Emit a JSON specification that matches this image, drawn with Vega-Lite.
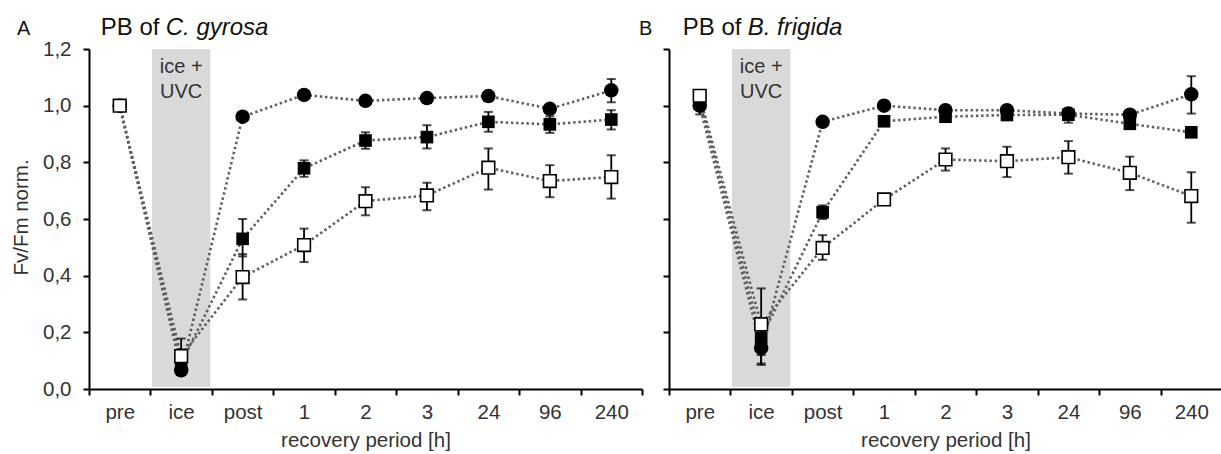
{
"$schema":"https://vega.github.io/schema/vega-lite/v6.json",
"padding":{"left":11,"top":16,"right":0,"bottom":0},
"spacing":27,
"bounds":"flush",
"datasets":{
"pts":[
{"p":"A","s":"c","i":0,"t":"pre","v":1.0},
{"p":"A","s":"c","i":1,"t":"ice","v":0.066,"lo":0.05,"hi":0.09},
{"p":"A","s":"c","i":2,"t":"post","v":0.961},
{"p":"A","s":"c","i":3,"t":"1","v":1.038},
{"p":"A","s":"c","i":4,"t":"2","v":1.017},
{"p":"A","s":"c","i":5,"t":"3","v":1.027},
{"p":"A","s":"c","i":6,"t":"24","v":1.034},
{"p":"A","s":"c","i":7,"t":"96","v":0.989},
{"p":"A","s":"c","i":8,"t":"240","v":1.054,"lo":1.012,"hi":1.094},
{"p":"A","s":"f","i":0,"t":"pre","v":1.0},
{"p":"A","s":"f","i":1,"t":"ice","v":0.09,"lo":0.05,"hi":0.14},
{"p":"A","s":"f","i":2,"t":"post","v":0.53,"lo":0.468,"hi":0.6},
{"p":"A","s":"f","i":3,"t":"1","v":0.779,"lo":0.749,"hi":0.807},
{"p":"A","s":"f","i":4,"t":"2","v":0.877,"lo":0.848,"hi":0.906},
{"p":"A","s":"f","i":5,"t":"3","v":0.889,"lo":0.849,"hi":0.931},
{"p":"A","s":"f","i":6,"t":"24","v":0.943,"lo":0.908,"hi":0.978},
{"p":"A","s":"f","i":7,"t":"96","v":0.934,"lo":0.904,"hi":0.962},
{"p":"A","s":"f","i":8,"t":"240","v":0.951,"lo":0.916,"hi":0.984},
{"p":"A","s":"o","i":0,"t":"pre","v":1.0},
{"p":"A","s":"o","i":1,"t":"ice","v":0.116,"lo":0.07,"hi":0.178},
{"p":"A","s":"o","i":2,"t":"post","v":0.395,"lo":0.316,"hi":0.476},
{"p":"A","s":"o","i":3,"t":"1","v":0.508,"lo":0.448,"hi":0.566},
{"p":"A","s":"o","i":4,"t":"2","v":0.663,"lo":0.613,"hi":0.712},
{"p":"A","s":"o","i":5,"t":"3","v":0.683,"lo":0.631,"hi":0.728},
{"p":"A","s":"o","i":6,"t":"24","v":0.781,"lo":0.704,"hi":0.849},
{"p":"A","s":"o","i":7,"t":"96","v":0.734,"lo":0.677,"hi":0.79},
{"p":"A","s":"o","i":8,"t":"240","v":0.748,"lo":0.672,"hi":0.825},
{"p":"B","s":"c","i":0,"t":"pre","v":1.0,"lo":0.969,"hi":1.03},
{"p":"B","s":"c","i":1,"t":"ice","v":0.145,"lo":0.085,"hi":0.2},
{"p":"B","s":"c","i":2,"t":"post","v":0.943},
{"p":"B","s":"c","i":3,"t":"1","v":1.0},
{"p":"B","s":"c","i":4,"t":"2","v":0.984},
{"p":"B","s":"c","i":5,"t":"3","v":0.984},
{"p":"B","s":"c","i":6,"t":"24","v":0.972},
{"p":"B","s":"c","i":7,"t":"96","v":0.968},
{"p":"B","s":"c","i":8,"t":"240","v":1.04,"lo":0.972,"hi":1.104},
{"p":"B","s":"f","i":0,"t":"pre","v":1.02},
{"p":"B","s":"f","i":1,"t":"ice","v":0.18,"lo":0.09,"hi":0.25},
{"p":"B","s":"f","i":2,"t":"post","v":0.624,"lo":0.6,"hi":0.648},
{"p":"B","s":"f","i":3,"t":"1","v":0.945},
{"p":"B","s":"f","i":4,"t":"2","v":0.961},
{"p":"B","s":"f","i":5,"t":"3","v":0.967},
{"p":"B","s":"f","i":6,"t":"24","v":0.968,"lo":0.94,"hi":0.99},
{"p":"B","s":"f","i":7,"t":"96","v":0.936},
{"p":"B","s":"f","i":8,"t":"240","v":0.906},
{"p":"B","s":"o","i":0,"t":"pre","v":1.035},
{"p":"B","s":"o","i":1,"t":"ice","v":0.228,"lo":0.12,"hi":0.355},
{"p":"B","s":"o","i":2,"t":"post","v":0.498,"lo":0.456,"hi":0.543},
{"p":"B","s":"o","i":3,"t":"1","v":0.669},
{"p":"B","s":"o","i":4,"t":"2","v":0.81,"lo":0.771,"hi":0.849},
{"p":"B","s":"o","i":5,"t":"3","v":0.804,"lo":0.748,"hi":0.855},
{"p":"B","s":"o","i":6,"t":"24","v":0.818,"lo":0.76,"hi":0.875},
{"p":"B","s":"o","i":7,"t":"96","v":0.763,"lo":0.702,"hi":0.82},
{"p":"B","s":"o","i":8,"t":"240","v":0.681,"lo":0.587,"hi":0.765}
]},
"hconcat":[
{"width":553,"height":340,
"encoding":{
"x":{"field":"t","type":"nominal","sort":["pre","ice","post","1","2","3","24","96","240"],
"scale":{"type":"band","domain":["pre","ice","post","1","2","3","24","96","240"],"paddingInner":0,"paddingOuter":0},
"axis":{"title":"recovery period [h]","labelAngle":0,"tickBand":"extent","tickSize":6,"labelPadding":7,"titlePadding":8}}
},
"layer":[
{"data":{"values":[{"t":"ice"}]},"mark":{"type":"rect","color":"#d9d9d9","width":{"band":0.95}},
"encoding":{"y":{"datum":0.008,"type":"quantitative","scale":{"domain":[0,1.2],"nice":false},"axis":{"title":"Fv/Fm norm.","values":[0,0.2,0.4,0.6,0.8,1,1.2],"labelExpr":"replace(format(datum.value,'.1f'),'.',',')","tickSize":6,"labelPadding":12,"titleX":-68,"titleY":168,"titleAngle":-90,"titleAlign":"center","titleBaseline":"middle"}},"y2":{"datum":1.2}}},
{"data":{"values":[{"t":"ice","label":"ice +"}]},"mark":{"type":"text","fontSize":20,"color":"#333"},
"encoding":{"y":{"datum":1.135,"type":"quantitative"},"text":{"field":"label"}}},
{"data":{"values":[{"t":"ice","label":"UVC"}]},"mark":{"type":"text","fontSize":20,"color":"#333"},
"encoding":{"y":{"datum":1.047,"type":"quantitative"},"text":{"field":"label"}}},
{"data":{"values":[{"t":"pre","label":"A"}]},"mark":{"type":"text","fontSize":20,"color":"#111","dx":-96,"baseline":"alphabetic","clip":false},
"encoding":{"y":{"datum":1.248,"type":"quantitative"},"text":{"field":"label"}}},
{"data":{"values":[{"t":"pre","label":"PB of"}]},"mark":{"type":"text","fontSize":24,"color":"#111","dx":-19,"align":"left","baseline":"alphabetic","clip":false},
"encoding":{"y":{"datum":1.248,"type":"quantitative"},"text":{"field":"label"}}},
{"data":{"values":[{"t":"pre","label":"C. gyrosa"}]},"mark":{"type":"text","fontSize":24,"fontStyle":"italic","color":"#111","dx":46,"align":"left","baseline":"alphabetic","clip":false},
"encoding":{"y":{"datum":1.248,"type":"quantitative"},"text":{"field":"label"}}},
{"data":{"name":"pts"},"transform":[{"filter":"datum.p=='A'"}],"mark":{"type":"line","color":"#5e5e5e","strokeWidth":2.6,"strokeDash":[2.4,2.8]},
"encoding":{"y":{"field":"v","type":"quantitative"},"detail":{"field":"s"},"order":{"field":"i"}}},
{"data":{"name":"pts"},"transform":[{"filter":"datum.p=='A' && isValid(datum.lo)"}],"mark":{"type":"rule","color":"#000","strokeWidth":1.8},
"encoding":{"y":{"field":"lo","type":"quantitative"},"y2":{"field":"hi"}}},
{"data":{"name":"pts"},"transform":[{"filter":"datum.p=='A' && isValid(datum.lo)"}],"mark":{"type":"tick","color":"#000","size":9,"thickness":2},
"encoding":{"y":{"field":"lo","type":"quantitative"}}},
{"data":{"name":"pts"},"transform":[{"filter":"datum.p=='A' && isValid(datum.hi)"}],"mark":{"type":"tick","color":"#000","size":9,"thickness":2},
"encoding":{"y":{"field":"hi","type":"quantitative"}}},
{"data":{"name":"pts"},"transform":[{"filter":"datum.p=='A' && datum.s=='c'"}],"mark":{"type":"point","shape":"circle","filled":true,"color":"#000","size":210,"opacity":1},
"encoding":{"y":{"field":"v","type":"quantitative"}}},
{"data":{"name":"pts"},"transform":[{"filter":"datum.p=='A' && datum.s=='f'"}],"mark":{"type":"point","shape":"square","filled":true,"color":"#000","size":160,"opacity":1},
"encoding":{"y":{"field":"v","type":"quantitative"}}},
{"data":{"name":"pts"},"transform":[{"filter":"datum.p=='A' && datum.s=='o'"}],"mark":{"type":"point","shape":"square","filled":true,"fill":"#fff","stroke":"#000","strokeWidth":1.6,"size":160,"opacity":1},
"encoding":{"y":{"field":"v","type":"quantitative"}}}
]},
{"width":553,"height":340,
"encoding":{
"x":{"field":"t","type":"nominal","sort":["pre","ice","post","1","2","3","24","96","240"],
"scale":{"type":"band","domain":["pre","ice","post","1","2","3","24","96","240"],"paddingInner":0,"paddingOuter":0},
"axis":{"title":"recovery period [h]","labelAngle":0,"tickBand":"extent","tickSize":6,"labelPadding":7,"titlePadding":8}}
},
"layer":[
{"data":{"values":[{"t":"ice"}]},"mark":{"type":"rect","color":"#d9d9d9","width":{"band":0.95}},
"encoding":{"y":{"datum":0.008,"type":"quantitative","scale":{"domain":[0,1.2],"nice":false},"axis":{"title":null,"values":[0,0.2,0.4,0.6,0.8,1,1.2],"labels":false,"tickSize":6}},"y2":{"datum":1.2}}},
{"data":{"values":[{"t":"ice","label":"ice +"}]},"mark":{"type":"text","fontSize":20,"color":"#333"},
"encoding":{"y":{"datum":1.135,"type":"quantitative"},"text":{"field":"label"}}},
{"data":{"values":[{"t":"ice","label":"UVC"}]},"mark":{"type":"text","fontSize":20,"color":"#333"},
"encoding":{"y":{"datum":1.047,"type":"quantitative"},"text":{"field":"label"}}},
{"data":{"values":[{"t":"pre","label":"B"}]},"mark":{"type":"text","fontSize":20,"color":"#111","dx":-54,"baseline":"alphabetic","clip":false},
"encoding":{"y":{"datum":1.248,"type":"quantitative"},"text":{"field":"label"}}},
{"data":{"values":[{"t":"pre","label":"PB of"}]},"mark":{"type":"text","fontSize":24,"color":"#111","dx":-17,"align":"left","baseline":"alphabetic","clip":false},
"encoding":{"y":{"datum":1.248,"type":"quantitative"},"text":{"field":"label"}}},
{"data":{"values":[{"t":"pre","label":"B. frigida"}]},"mark":{"type":"text","fontSize":24,"fontStyle":"italic","color":"#111","dx":48,"align":"left","baseline":"alphabetic","clip":false},
"encoding":{"y":{"datum":1.248,"type":"quantitative"},"text":{"field":"label"}}},
{"data":{"name":"pts"},"transform":[{"filter":"datum.p=='B'"}],"mark":{"type":"line","color":"#5e5e5e","strokeWidth":2.6,"strokeDash":[2.4,2.8]},
"encoding":{"y":{"field":"v","type":"quantitative"},"detail":{"field":"s"},"order":{"field":"i"}}},
{"data":{"name":"pts"},"transform":[{"filter":"datum.p=='B' && isValid(datum.lo)"}],"mark":{"type":"rule","color":"#000","strokeWidth":1.8},
"encoding":{"y":{"field":"lo","type":"quantitative"},"y2":{"field":"hi"}}},
{"data":{"name":"pts"},"transform":[{"filter":"datum.p=='B' && isValid(datum.lo)"}],"mark":{"type":"tick","color":"#000","size":9,"thickness":2},
"encoding":{"y":{"field":"lo","type":"quantitative"}}},
{"data":{"name":"pts"},"transform":[{"filter":"datum.p=='B' && isValid(datum.hi)"}],"mark":{"type":"tick","color":"#000","size":9,"thickness":2},
"encoding":{"y":{"field":"hi","type":"quantitative"}}},
{"data":{"name":"pts"},"transform":[{"filter":"datum.p=='B' && datum.s=='c'"}],"mark":{"type":"point","shape":"circle","filled":true,"color":"#000","size":210,"opacity":1},
"encoding":{"y":{"field":"v","type":"quantitative"}}},
{"data":{"name":"pts"},"transform":[{"filter":"datum.p=='B' && datum.s=='f'"}],"mark":{"type":"point","shape":"square","filled":true,"color":"#000","size":160,"opacity":1},
"encoding":{"y":{"field":"v","type":"quantitative"}}},
{"data":{"name":"pts"},"transform":[{"filter":"datum.p=='B' && datum.s=='o'"}],"mark":{"type":"point","shape":"square","filled":true,"fill":"#fff","stroke":"#000","strokeWidth":1.6,"size":160,"opacity":1},
"encoding":{"y":{"field":"v","type":"quantitative"}}}
]}
],
"config":{"font":"Liberation Sans","view":{"stroke":null},
"axis":{"grid":false,"domainColor":"#000","domainWidth":2,"tickColor":"#000","tickWidth":2,"labelFontSize":20.5,"titleFontSize":20.5,"labelColor":"#333","titleColor":"#333","titleFontWeight":"normal","labelFont":"Liberation Sans","titleFont":"Liberation Sans"}}
}
